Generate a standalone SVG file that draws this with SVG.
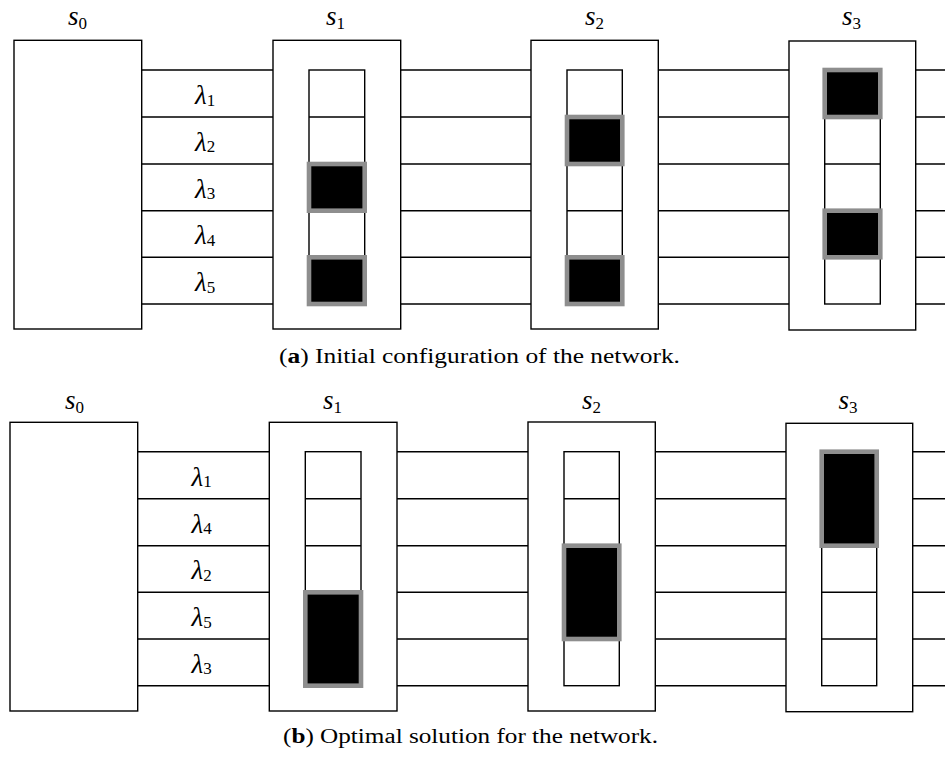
<svg xmlns="http://www.w3.org/2000/svg" width="945" height="758" viewBox="0 0 945 758">
<style>
.box{fill:#fff;stroke:#000;stroke-width:1.4}
.ln{stroke:#000;stroke-width:1.4;fill:none}
.cell{fill:#fff;stroke:#000;stroke-width:1.4}
.blk{fill:#000;stroke:#8e8e8e;stroke-width:4.6}
.m{font-family:"Liberation Serif","DejaVu Serif",serif;font-style:italic;font-size:27px;fill:#000}
.sub{font-style:normal;font-size:17px}
.cap{font-family:"Liberation Serif","DejaVu Serif",serif;font-size:20px;fill:#000}
</style>
<rect width="945" height="758" fill="#fff"/>
<!-- Panel a -->
<g id="a-connectors">
<path class="ln" d="M142 70H273M142 117H273M142 164H273M142 210.7H273M142 257.3H273M142 304H273"/>
<path class="ln" d="M401 70H531M401 117H531M401 164H531M401 210.7H531M401 257.3H531M401 304H531"/>
<path class="ln" d="M658.3 70H789M658.3 117H789M658.3 164H789M658.3 210.7H789M658.3 257.3H789M658.3 304H789"/>
<path class="ln" d="M915 70H945M915 117H945M915 164H945M915 210.7H945M915 257.3H945M915 304H945M914.6 70V304"/>
</g>
<g id="a-s0">
<rect class="box" x="14" y="40.3" width="127.7" height="288.7"/>
<text class="m" x="68" y="25">s<tspan class="sub" dy="4">0</tspan></text>
</g>
<g id="a-labels">
<text class="m" x="195" y="104">λ<tspan class="sub" dy="1.5">1</tspan></text>
<text class="m" x="195" y="150.8">λ<tspan class="sub" dy="1.5">2</tspan></text>
<text class="m" x="195" y="197.6">λ<tspan class="sub" dy="1.5">3</tspan></text>
<text class="m" x="195" y="244.4">λ<tspan class="sub" dy="1.5">4</tspan></text>
<text class="m" x="195" y="291.2">λ<tspan class="sub" dy="1.5">5</tspan></text>
</g>
<g id="a-s1">
<rect class="box" x="273" y="40.3" width="127.7" height="288.7"/>
<text class="m" x="326" y="25">s<tspan class="sub" dy="4">1</tspan></text>
<rect class="cell" x="309" y="70" width="55.7" height="234"/>
<path class="ln" d="M309 117H364.7M309 164H364.7M309 210.7H364.7M309 257.3H364.7"/>
<rect class="blk" x="309" y="164" width="55.7" height="46.7"/>
<rect class="blk" x="309" y="257.3" width="55.7" height="46.7"/>
</g>
<g id="a-s2">
<rect class="box" x="531" y="40.3" width="127.3" height="288.7"/>
<text class="m" x="585" y="25">s<tspan class="sub" dy="4">2</tspan></text>
<rect class="cell" x="567" y="70" width="55.3" height="234"/>
<path class="ln" d="M567 117H622.3M567 164H622.3M567 210.7H622.3M567 257.3H622.3"/>
<rect class="blk" x="567" y="117" width="55.3" height="47"/>
<rect class="blk" x="567" y="257.3" width="55.3" height="46.7"/>
</g>
<g id="a-s3">
<rect class="box" x="789" y="41" width="126.7" height="289"/>
<text class="m" x="842" y="25">s<tspan class="sub" dy="4">3</tspan></text>
<rect class="cell" x="824.7" y="70" width="55.6" height="234"/>
<path class="ln" d="M824.7 117H880.3M824.7 164H880.3M824.7 210.7H880.3M824.7 257.3H880.3"/>
<rect class="blk" x="824.7" y="70" width="55.6" height="47"/>
<rect class="blk" x="824.7" y="210.7" width="55.6" height="46.6"/>
</g>
<text class="cap" x="279" y="363" textLength="401" lengthAdjust="spacingAndGlyphs">(<tspan font-weight="bold">a</tspan>) Initial configuration of the network.</text>
<!-- Panel b -->
<g id="b-connectors">
<path class="ln" d="M137.7 451.7H269.3M137.7 498.7H269.3M137.7 545.7H269.3M137.7 592.3H269.3M137.7 639H269.3M137.7 685.7H269.3"/>
<path class="ln" d="M397 451.7H528M397 498.7H528M397 545.7H528M397 592.3H528M397 639H528M397 685.7H528"/>
<path class="ln" d="M655.3 451.7H786M655.3 498.7H786M655.3 545.7H786M655.3 592.3H786M655.3 639H786M655.3 685.7H786"/>
<path class="ln" d="M912 451.7H945M912 498.7H945M912 545.7H945M912 592.3H945M912 639H945M912 685.7H945M911.7 451.7V685.7"/>
</g>
<g id="b-s0">
<rect class="box" x="10" y="422.3" width="127.7" height="288.7"/>
<text class="m" x="65" y="409">s<tspan class="sub" dy="4">0</tspan></text>
</g>
<g id="b-labels">
<text class="m" x="191.5" y="485.7">λ<tspan class="sub" dy="1.5">1</tspan></text>
<text class="m" x="191.5" y="532.5">λ<tspan class="sub" dy="1.5">4</tspan></text>
<text class="m" x="191.5" y="579.3">λ<tspan class="sub" dy="1.5">2</tspan></text>
<text class="m" x="191.5" y="626.1">λ<tspan class="sub" dy="1.5">5</tspan></text>
<text class="m" x="191.5" y="672.9">λ<tspan class="sub" dy="1.5">3</tspan></text>
</g>
<g id="b-s1">
<rect class="box" x="269.3" y="422.3" width="127.7" height="288.7"/>
<text class="m" x="323" y="409">s<tspan class="sub" dy="4">1</tspan></text>
<rect class="cell" x="305.3" y="451.7" width="55.7" height="234"/>
<path class="ln" d="M305.3 498.7H361M305.3 545.7H361M305.3 592.3H361M305.3 639H361"/>
<rect class="blk" x="305.3" y="592.3" width="55.7" height="93.4"/>
</g>
<g id="b-s2">
<rect class="box" x="528" y="422" width="127.3" height="289"/>
<text class="m" x="582" y="409">s<tspan class="sub" dy="4">2</tspan></text>
<rect class="cell" x="564" y="451.7" width="55.3" height="234"/>
<path class="ln" d="M564 498.7H619.3M564 545.7H619.3M564 592.3H619.3M564 639H619.3"/>
<rect class="blk" x="564" y="545.7" width="55.3" height="93.3"/>
</g>
<g id="b-s3">
<rect class="box" x="786" y="423.3" width="126.7" height="288.4"/>
<text class="m" x="838.5" y="409">s<tspan class="sub" dy="4">3</tspan></text>
<rect class="cell" x="821.7" y="451.7" width="55" height="234"/>
<path class="ln" d="M821.7 498.7H876.7M821.7 545.7H876.7M821.7 592.3H876.7M821.7 639H876.7"/>
<rect class="blk" x="821.7" y="451.7" width="55" height="94"/>
</g>
<text class="cap" x="283" y="743" textLength="375" lengthAdjust="spacingAndGlyphs">(<tspan font-weight="bold">b</tspan>) Optimal solution for the network.</text>
</svg>
